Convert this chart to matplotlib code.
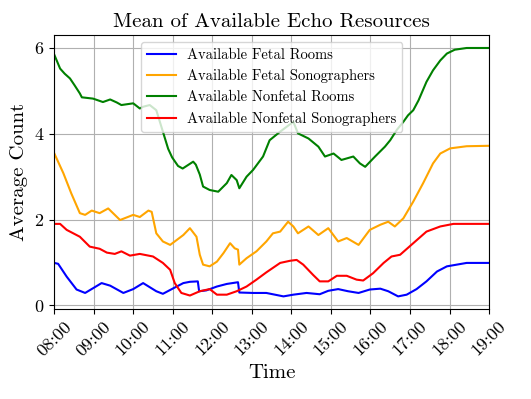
import numpy as np
import matplotlib
matplotlib.use("Agg")
import matplotlib.pyplot as plt

plt.rcParams['font.family'] = ['cmr10', 'DejaVu Serif']
plt.rcParams['mathtext.fontset'] = 'cm'
plt.rcParams['axes.formatter.use_mathtext'] = True

# minutes after 08:00, average counts
fetal_rooms_t = [0, 6, 19, 34, 47, 59, 72, 85, 105, 120, 135, 155, 165, 181, 196, 206, 218, 220,
                 231, 247, 262, 279, 281, 302, 322, 348, 363, 383, 403, 416, 431, 446, 462, 479,
                 495, 507, 522, 535, 550, 565, 581, 596, 611, 626, 660]
fetal_rooms = [0.99, 0.97, 0.67, 0.37, 0.29, 0.40, 0.52, 0.46, 0.29, 0.38, 0.52, 0.33, 0.27, 0.40,
               0.52, 0.55, 0.56, 0.33, 0.35, 0.44, 0.50, 0.54, 0.30, 0.29, 0.29, 0.21, 0.25, 0.29,
               0.26, 0.34, 0.38, 0.33, 0.29, 0.37, 0.39, 0.33, 0.21, 0.25, 0.38, 0.56, 0.79, 0.91,
               0.95, 0.99, 0.99]

fetal_sono_t = [0, 14, 26, 39, 47, 57, 69, 82, 92, 100, 120, 130, 143, 148, 155, 165, 176, 183, 196,
                206, 216, 221, 226, 236, 247, 257, 267, 274, 279, 281, 292, 307, 322, 332, 343, 355,
                363, 370, 386, 401, 416, 431, 444, 462, 479, 495, 507, 517, 530, 545, 560, 575, 586,
                601, 626, 660]
fetal_sono = [3.55, 3.08, 2.61, 2.15, 2.11, 2.21, 2.15, 2.26, 2.11, 1.99, 2.11, 2.06, 2.21, 2.18,
              1.68, 1.49, 1.41, 1.49, 1.64, 1.80, 1.60, 1.18, 0.95, 0.91, 1.02, 1.22, 1.45, 1.33,
              1.30, 0.95, 1.10, 1.26, 1.49, 1.68, 1.72, 1.95, 1.84, 1.68, 1.84, 1.64, 1.80, 1.49,
              1.57, 1.41, 1.76, 1.88, 1.95, 1.84, 2.03, 2.42, 2.85, 3.31, 3.54, 3.66, 3.71, 3.72]

nonfetal_rooms_t = [0, 9, 16, 24, 31, 39, 42, 59, 74, 85, 95, 102, 120, 130, 135, 145, 155, 165,
                    173, 179, 188, 195, 206, 211, 215, 221, 226, 236, 249, 262, 269, 277, 281, 292,
                    302, 317, 327, 343, 363, 370, 386, 401, 411, 424, 436, 454, 464, 472, 487, 502,
                    510, 520, 530, 537, 545, 553, 565, 575, 586, 596, 608, 626, 660]
nonfetal_rooms = [5.85, 5.52, 5.40, 5.29, 5.13, 4.94, 4.85, 4.82, 4.74, 4.80, 4.73, 4.67, 4.71,
                  4.59, 4.63, 4.67, 4.55, 4.05, 3.65, 3.45, 3.25, 3.19, 3.30, 3.35, 3.28, 3.05,
                  2.77, 2.69, 2.65, 2.85, 3.04, 2.92, 2.73, 3.00, 3.16, 3.47, 3.85, 4.05, 4.28,
                  4.01, 3.89, 3.70, 3.47, 3.54, 3.39, 3.47, 3.31, 3.23, 3.47, 3.70, 3.85, 4.09,
                  4.28, 4.43, 4.55, 4.78, 5.21, 5.48, 5.71, 5.87, 5.96, 6.00, 6.00]

nonfetal_sono_t = [0, 9, 19, 39, 54, 69, 80, 92, 102, 115, 130, 150, 165, 176, 183, 193, 206, 221,
                   236, 247, 262, 277, 292, 307, 322, 343, 358, 368, 378, 393, 403, 416, 429, 444,
                   459, 469, 484, 500, 512, 525, 545, 565, 586, 606, 660]
nonfetal_sono = [1.90, 1.90, 1.76, 1.60, 1.37, 1.32, 1.23, 1.20, 1.26, 1.16, 1.20, 1.14, 0.99,
                 0.83, 0.52, 0.29, 0.23, 0.33, 0.38, 0.25, 0.25, 0.33, 0.44, 0.60, 0.77, 0.99,
                 1.04, 1.06, 0.95, 0.71, 0.56, 0.56, 0.69, 0.69, 0.60, 0.58, 0.75, 0.99, 1.14,
                 1.18, 1.45, 1.72, 1.84, 1.90, 1.90]

hours = list(range(8, 20))
hour_labels = [f"{h:02d}:00" for h in hours]


def to_hours(mins):
    return 8 + np.array(mins) / 60.0


fig = plt.figure(figsize=(5.31, 3.99), dpi=100)
ax = fig.add_axes([0.102, 0.226, 0.819, 0.686])

ax.plot(to_hours(fetal_rooms_t), fetal_rooms, color="blue", lw=1.5, label="Available Fetal Rooms")
ax.plot(to_hours(fetal_sono_t), fetal_sono, color="orange", lw=1.5, label="Available Fetal Sonographers")
ax.plot(to_hours(nonfetal_rooms_t), nonfetal_rooms, color="green", lw=1.5, label="Available Nonfetal Rooms")
ax.plot(to_hours(nonfetal_sono_t), nonfetal_sono, color="red", lw=1.5, label="Available Nonfetal Sonographers")

ax.set_xlim(8, 19)
ax.set_ylim(-0.08, 6.3)
ax.set_xticks(hours)
ax.set_xticklabels(hour_labels, rotation=45)
ax.set_yticks([0, 2, 4, 6])
ax.tick_params(labelsize=13)
ax.grid(True)

ax.set_title("Mean of Available Echo Resources", fontsize=15)
ax.set_xlabel("Time", fontsize=15)
ax.set_ylabel("Average Count", fontsize=15)
ax.legend(loc="upper center", fontsize=10.5)

fig.savefig("out.png", dpi=100)
